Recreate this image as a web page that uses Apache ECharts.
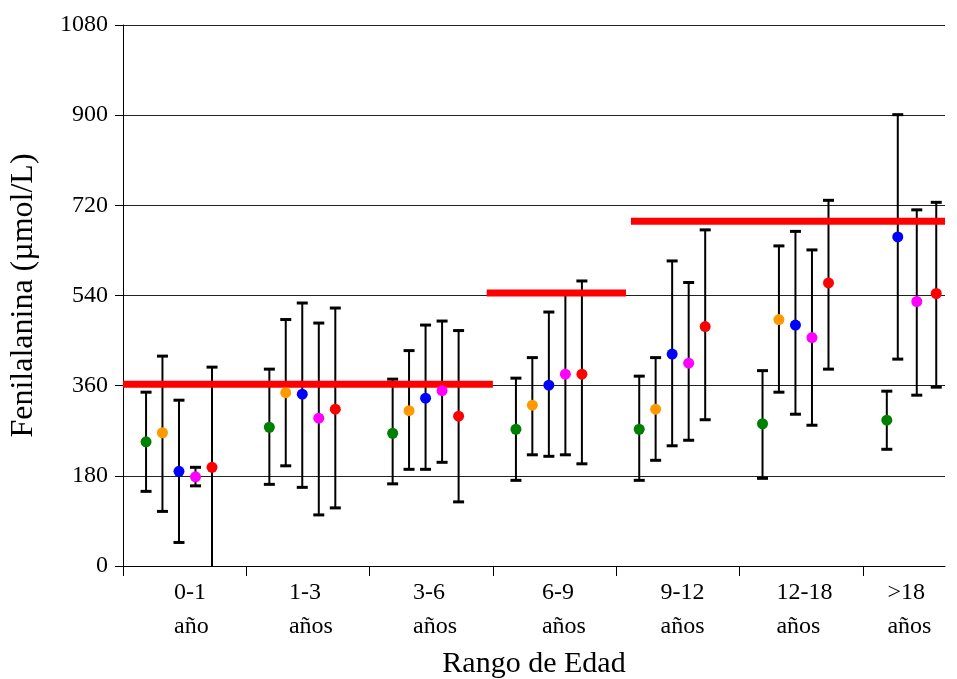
<!DOCTYPE html>
<html>
<head>
<meta charset="utf-8">
<script src="https://cdn.jsdelivr.net/npm/echarts@6/dist/echarts.min.js"></script>
<style>
  html, body { margin: 0; padding: 0; background: #fff; }
  #main { width: 957px; height: 679px; }
</style>
</head>
<body>
<div id="main"></div>
<script>
// categorias (rango de edad)
var categories = ['0-1\naño', '1-3\naños', '3-6\naños', '6-9\naños', '9-12\naños', '12-18\naños', '>18\naños'];
var seriesColors = ['#008000', '#ff9900', '#0000ff', '#ff00ff', '#ff0000'];

// medias y extremos de cada serie (µmol/L)
var greenMean = [248, 277, 265, 273, 273, 284, 291];
var greenLow = [149, 163, 164, 171, 171, 175, 233];
var greenHigh = [347, 393, 373, 375, 379, 390, 349];

var orangeMean = [266, 346, 310, 321, 313, 492, null];
var orangeLow = [109, 200, 193, 222, 211, 347, null];
var orangeHigh = [419, 492, 430, 416, 416, 639, null];

var blueMean = [189, 343, 335, 361, 423, 481, 657];
var blueLow = [47, 157, 193, 219, 240, 303, 413];
var blueHigh = [331, 525, 481, 507, 609, 668, 901];

var magentaMean = [178, 295, 350, 383, 405, 456, 528];
var magentaLow = [160, 102, 207, 222, 251, 281, 341];
var magentaHigh = [197, 485, 489, 546, 566, 631, 711];

var redMean = [197, 313, 299, 383, 478, 565, 544];
var redLow = [-10, 116, 128, 204, 292, 393, 357];
var redHigh = [397, 515, 470, 569, 671, 730, 726];

// limite recomendado por rango de edad
var limitValues = [363, 363, 363, 545, 688, 688, 688];

// posiciones dentro de cada grupo (fraccion de la categoria)
var groupOffsets = [0.187, 0.32, 0.454, 0.588, 0.722];
var lastOffsets = [0.195, null, 0.284, 0.438, 0.596];
var labelLeft = [0.414, 0.346, 0.352, 0.398, 0.36, 0.3, 0.2];
var xMax = 6.667;

var means = [greenMean, orangeMean, blueMean, magentaMean, redMean];
var lows = [greenLow, orangeLow, blueLow, magentaLow, redLow];
var highs = [greenHigh, orangeHigh, blueHigh, magentaHigh, redHigh];

function xPos(cat, s) {
  var off = cat === categories.length - 1 ? lastOffsets[s] : groupOffsets[s];
  return cat + off;
}

// tramos del limite (categorias consecutivas con el mismo valor)
var segments = [];
for (var i = 0; i < limitValues.length; i++) {
  var last = segments[segments.length - 1];
  if (last && last[2] === limitValues[i]) {
    last[1] = i + 1;
  } else {
    segments.push([i, i + 1, limitValues[i]]);
  }
}
var segPad = [[0, 0], [-0.05, 0.08], [0.12, 0]];
var segData = segments.map(function (sg, k) {
  return [sg[0] + segPad[k][0], Math.min(sg[1] + segPad[k][1], xMax), sg[2]];
});

function renderErrorBar(params, api) {
  var x = api.value(0);
  var lo = api.coord([x, api.value(1)]);
  var hi = api.coord([x, api.value(2)]);
  var w = 5.5;
  return {
    type: 'group',
    children: [
      { type: 'line', shape: { x1: lo[0], y1: lo[1], x2: hi[0], y2: hi[1] }, style: { stroke: '#000', lineWidth: 2 } },
      { type: 'line', shape: { x1: hi[0] - w, y1: hi[1], x2: hi[0] + w, y2: hi[1] }, style: { stroke: '#000', lineWidth: 3 } },
      { type: 'line', shape: { x1: lo[0] - w, y1: lo[1], x2: lo[0] + w, y2: lo[1] }, style: { stroke: '#000', lineWidth: 3 } }
    ]
  };
}

function renderLimit(params, api) {
  var a = api.coord([api.value(0), api.value(2)]);
  var b = api.coord([api.value(1), api.value(2)]);
  return {
    type: 'line',
    shape: { x1: a[0], y1: a[1], x2: b[0], y2: b[1] },
    style: { stroke: '#ff0000', lineWidth: 7 }
  };
}

var series = [];
for (var s = 0; s < 5; s++) {
  var barData = [], dotData = [];
  for (var c = 0; c < categories.length; c++) {
    if (means[s][c] == null) continue;
    var x = xPos(c, s);
    barData.push([x, lows[s][c], highs[s][c]]);
    dotData.push([x, means[s][c]]);
  }
  series.push({
    type: 'custom',
    renderItem: renderErrorBar,
    clip: true,
    encode: { x: 0, y: [1, 2] },
    data: barData,
    z: 2
  });
  series.push({
    type: 'scatter',
    symbolSize: 11,
    itemStyle: { color: seriesColors[s], opacity: 1 },
    data: dotData,
    z: 5
  });
}
series.push({
  type: 'custom',
  renderItem: renderLimit,
  encode: { x: [0, 1], y: 2 },
  data: segData,
  z: 3
});

var tickValues = [];
var labelValues = [];
for (var k = 0; k < categories.length; k++) {
  tickValues.push(k);
  labelValues.push(k + labelLeft[k]);
}

var chart = echarts.init(document.getElementById('main'));
chart.setOption({
  animation: false,
  backgroundColor: '#fff',
  grid: { left: 123, right: 12, top: 25, bottom: 113, containLabel: false, outerBoundsMode: 'none' },
  xAxis: {
    type: 'value',
    min: 0,
    max: xMax,
    name: 'Rango de Edad',
    nameLocation: 'middle',
    nameGap: 80,
    nameTextStyle: { fontFamily: 'Liberation Serif', fontSize: 30, color: '#000' },
    axisLine: { lineStyle: { color: '#000', width: 1 } },
    axisTick: { customValues: tickValues, length: 10, lineStyle: { color: '#000' } },
    axisLabel: {
      customValues: labelValues,
      formatter: function (v) { return categories[Math.floor(v)]; },
      align: 'left',
      margin: 10,
      fontFamily: 'Liberation Serif',
      fontSize: 24,
      lineHeight: 34,
      color: '#000'
    },
    splitLine: { show: false }
  },
  yAxis: {
    type: 'value',
    min: 0,
    max: 1080,
    interval: 180,
    name: 'Fenilalanina (µmol/L)',
    nameLocation: 'middle',
    nameGap: 83,
    nameTextStyle: { fontFamily: 'Liberation Serif', fontSize: 32, color: '#000' },
    axisLine: { show: true, lineStyle: { color: '#000', width: 1 } },
    axisTick: { show: true, length: 8, lineStyle: { color: '#000' } },
    axisLabel: {
      margin: 15,
      formatter: function (v) { return String(v); },
      fontFamily: 'Liberation Serif',
      fontSize: 24,
      color: '#000'
    },
    splitLine: { lineStyle: { color: '#222', width: 1 } }
  },
  series: series
});
</script>
</body>
</html>
